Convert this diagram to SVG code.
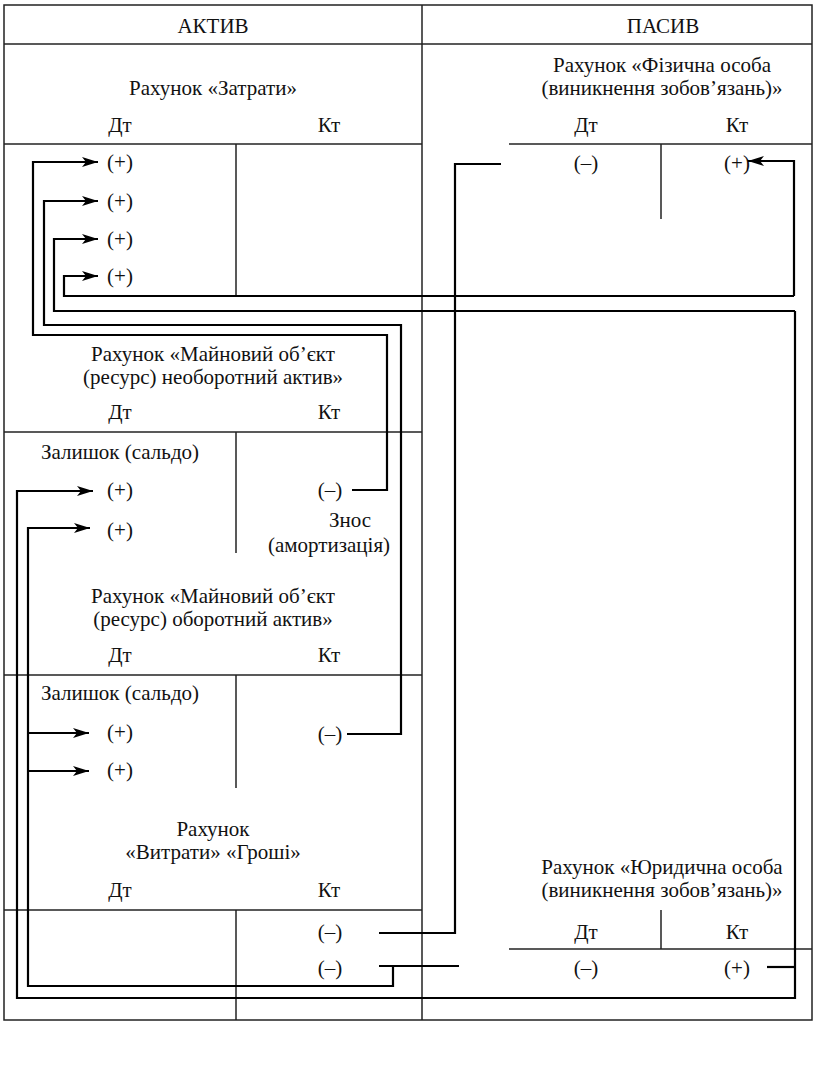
<svg xmlns="http://www.w3.org/2000/svg" width="816" height="1081" viewBox="0 0 816 1081">
<style>
.t{font-family:"Liberation Serif","DejaVu Serif",serif;font-size:21px;fill:#111;text-anchor:middle}
.g{fill:none;stroke:#222;stroke-width:1.5}
.c{fill:none;stroke:#000;stroke-width:2.2}
.a{marker-end:url(#ar)}
</style>
<defs>
<marker id="ar" markerUnits="userSpaceOnUse" markerWidth="18" markerHeight="12" refX="16" refY="5" orient="auto">
<path d="M0,0 L16,5 L0,10 L4,5 z" fill="#000"/>
</marker>
</defs>
<rect x="0" y="0" width="816" height="1081" fill="#fff"/>
<g id="frame">
<rect class="g" x="4" y="5" width="808" height="1015"/>
<line class="g" x1="422" y1="5" x2="422" y2="1020"/>
<line class="g" x1="4" y1="44" x2="812" y2="44"/>
<text class="t" x="213" y="33">АКТИВ</text>
<text class="t" x="663" y="33">ПАСИВ</text>
</g>
<g id="zatraty">
<text class="t" x="213" y="95">Рахунок «Затрати»</text>
<text class="t" x="120" y="132">Дт</text>
<text class="t" x="329" y="132">Кт</text>
<line class="g" x1="4" y1="144" x2="422" y2="144"/>
<line class="g" x1="236" y1="144" x2="236" y2="296"/>
<text class="t" x="120" y="169">(+)</text>
<text class="t" x="120" y="208">(+)</text>
<text class="t" x="120" y="246">(+)</text>
<text class="t" x="120" y="283">(+)</text>
</g>
<g id="fizychna">
<text class="t" x="662" y="72">Рахунок «Фізична особа</text>
<text class="t" x="662" y="95">(виникнення зобов’язань)»</text>
<text class="t" x="586" y="132">Дт</text>
<text class="t" x="737" y="132">Кт</text>
<line class="g" x1="509" y1="144" x2="812" y2="144"/>
<line class="g" x1="661" y1="144" x2="661" y2="219"/>
<text class="t" x="586" y="170">(–)</text>
<text class="t" x="737" y="170">(+)</text>
</g>
<g id="neoborotnyi">
<text class="t" x="213" y="361">Рахунок «Майновий об’єкт</text>
<text class="t" x="213" y="384">(ресурс) необоротний актив»</text>
<text class="t" x="120" y="419">Дт</text>
<text class="t" x="329" y="419">Кт</text>
<line class="g" x1="4" y1="432" x2="422" y2="432"/>
<line class="g" x1="236" y1="432" x2="236" y2="553"/>
<text class="t" x="120" y="459">Залишок (сальдо)</text>
<text class="t" x="120" y="497">(+)</text>
<text class="t" x="120" y="537">(+)</text>
<text class="t" x="330" y="497">(–)</text>
<text class="t" x="350" y="527">Знос</text>
<text class="t" x="329" y="552">(амортизація)</text>
</g>
<g id="oborotnyi">
<text class="t" x="213" y="603">Рахунок «Майновий об’єкт</text>
<text class="t" x="213" y="626">(ресурс) оборотний актив»</text>
<text class="t" x="120" y="662">Дт</text>
<text class="t" x="329" y="662">Кт</text>
<line class="g" x1="4" y1="675" x2="422" y2="675"/>
<line class="g" x1="236" y1="675" x2="236" y2="788"/>
<text class="t" x="120" y="700">Залишок (сальдо)</text>
<text class="t" x="120" y="739">(+)</text>
<text class="t" x="120" y="777">(+)</text>
<text class="t" x="330" y="741">(–)</text>
</g>
<g id="groshi">
<text class="t" x="213" y="836">Рахунок</text>
<text class="t" x="213" y="859">«Витрати» «Гроші»</text>
<text class="t" x="120" y="897">Дт</text>
<text class="t" x="329" y="897">Кт</text>
<line class="g" x1="4" y1="910" x2="422" y2="910"/>
<line class="g" x1="236" y1="910" x2="236" y2="1020"/>
<text class="t" x="330" y="939">(–)</text>
<text class="t" x="330" y="975">(–)</text>
</g>
<g id="yurydychna">
<text class="t" x="662" y="874">Рахунок «Юридична особа</text>
<text class="t" x="662" y="897">(виникнення зобов’язань)»</text>
<line class="g" x1="661" y1="910" x2="661" y2="949"/>
<text class="t" x="586" y="939">Дт</text>
<text class="t" x="737" y="939">Кт</text>
<line class="g" x1="509" y1="949" x2="812" y2="949"/>
<text class="t" x="586" y="975">(–)</text>
<text class="t" x="737" y="975">(+)</text>
</g>
<g id="connectors">
<path class="c a" d="M352,490 H387 V335 H33 V162 H98"/>
<path class="c a" d="M347,734 H401 V325 H44 V201 H98"/>
<path class="c a" d="M795,311 H54 V239 H98"/>
<path class="c a" d="M795,311 V998 H17 V491 H93"/>
<path class="c" d="M767,967 H795"/>
<path class="c a" d="M794,296 H64 V276 H98"/>
<path class="c a" d="M794,296 V161 H748"/>
<path class="c" d="M379,933 H455 V164 H501"/>
<path class="c" d="M379,966 H459"/>
<path class="c a" d="M393,966 V986 H28 V528 H90"/>
<path class="c a" d="M28,733 H89"/>
<path class="c a" d="M28,771 H89"/>
</g>
</svg>
